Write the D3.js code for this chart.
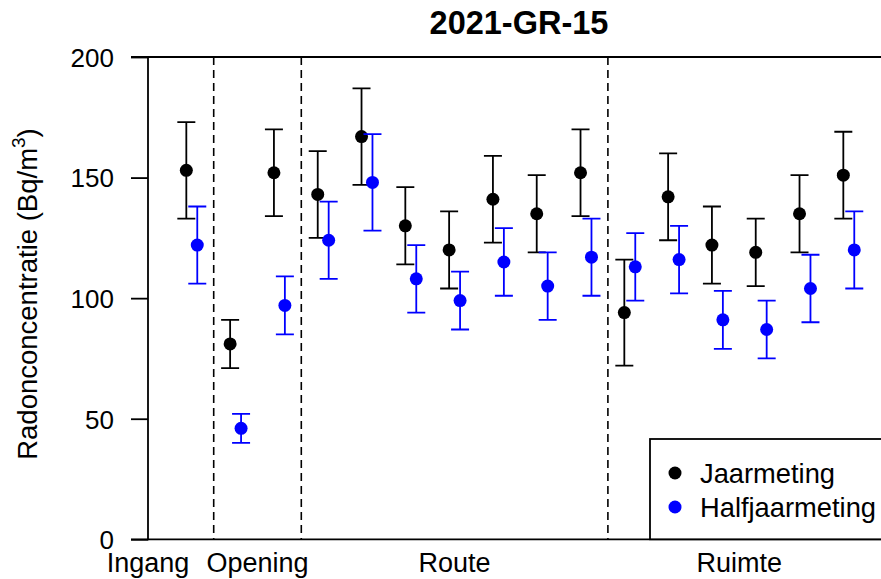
<!DOCTYPE html>
<html>
<head>
<meta charset="utf-8">
<script src="https://cdn.jsdelivr.net/npm/d3@7/dist/d3.min.js"></script>
<style>
  html, body { margin: 0; padding: 0; background: #fff; }
  svg { display: block; font-family: "Liberation Sans", Arial, sans-serif; }
</style>
</head>
<body>
<svg id="chart" width="881" height="579"></svg>
<script>
// Measurement locations (1..16) and their values in Bq/m3
const locations = [1, 2, 3, 4, 5, 6, 7, 8, 9, 10, 11, 12, 13, 14, 15, 16];

const yearValue = [153, 81, 152, 143, 167, 130, 120, 141, 135, 152, 94, 142, 122, 119, 135, 151];
const yearLow   = [133, 71, 134, 125, 147, 114, 104, 123, 119, 134, 72, 124, 106, 105, 119, 133];
const yearHigh  = [173, 91, 170, 161, 187, 146, 136, 159, 151, 170, 116, 160, 138, 133, 151, 169];

const halfValue = [122, 46, 97, 124, 148, 108, 99, 115, 105, 117, 113, 116, 91, 87, 104, 120];
const halfLow   = [106, 40, 85, 108, 128, 94, 87, 101, 91, 101, 99, 102, 79, 75, 90, 104];
const halfHigh  = [138, 52, 109, 140, 168, 122, 111, 129, 119, 133, 127, 130, 103, 99, 118, 136];

// Zone separators and zone labels
const zoneBreaks = [1.5, 3.5, 10.5];
const zoneNames = ["Ingang", "Opening", "Route", "Ruimte"];
const zoneLabelPos = [0, 2.5, 7, 13.5];

const yTicks = [0, 50, 100, 150, 200];
const seriesNames = ["Jaarmeting", "Halfjaarmeting"];
const seriesColors = ["#000000", "#0000ff"];
const title = "2021-GR-15";

const svg = d3.select("#chart");
const x = d3.scaleLinear().domain([0, 17]).range([148, 892.6]);
const y = d3.scaleLinear().domain([0, 200]).range([539.3, 57]);
const xLeft = x(0), xRight = x(17);

// Title
svg.append("text")
  .attr("x", 519).attr("y", 34)
  .attr("text-anchor", "middle")
  .attr("font-size", 32.5).attr("font-weight", "bold")
  .text(title);

// Box: top, bottom, left
const frame = svg.append("g").attr("stroke", "#000").attr("stroke-width", 1.8).attr("fill", "none");
frame.append("line").attr("x1", xLeft).attr("x2", xRight).attr("y1", y(200)).attr("y2", y(200));
frame.append("line").attr("x1", xLeft).attr("x2", xRight).attr("y1", y(0)).attr("y2", y(0));

// Y axis
const yAxis = d3.axisLeft(y).tickValues(yTicks).tickSize(17).tickPadding(17).tickFormat(d3.format("d"));
const yg = svg.append("g").attr("transform", `translate(${xLeft},0)`).call(yAxis);
yg.select(".domain").attr("stroke-width", 1.8).attr("d", `M-17,${y(200)}H0V${y(0)}H-17`);
yg.selectAll(".tick line").attr("stroke-width", 1.8);
yg.selectAll(".tick text")
  .attr("font-size", 26).attr("font-family", "Liberation Sans, Arial, sans-serif")
  .attr("fill", "#000").attr("dy", "0.36em");

// Y axis title
const yt = svg.append("text")
  .attr("transform", `translate(37,294) rotate(-90)`)
  .attr("text-anchor", "middle")
  .attr("font-size", 27.5);
yt.append("tspan").text("Radonconcentratie (Bq/m");
yt.append("tspan").attr("font-size", 19).attr("dy", -12).text("3");
yt.append("tspan").attr("dy", 12).text(")");

// Zone separators
svg.append("g").selectAll("line").data(zoneBreaks).join("line")
  .attr("x1", d => x(d)).attr("x2", d => x(d))
  .attr("y1", y(200)).attr("y2", y(0))
  .attr("stroke", "#000").attr("stroke-width", 1.6)
  .attr("stroke-dasharray", "8,5");

// Zone labels
svg.append("g").selectAll("text").data(zoneNames).join("text")
  .attr("x", (d, i) => x(zoneLabelPos[i])).attr("y", 572)
  .attr("text-anchor", "middle")
  .attr("font-size", 27)
  .text(d => d);

// Error bars with points
const series = [
  { name: seriesNames[0], color: seriesColors[0], offset: -0.125, v: yearValue, lo: yearLow, hi: yearHigh },
  { name: seriesNames[1], color: seriesColors[1], offset: 0.125, v: halfValue, lo: halfLow, hi: halfHigh }
];
const cap = 9;
series.forEach(s => {
  const g = svg.append("g").attr("stroke", s.color).attr("fill", s.color);
  const rows = locations.map((loc, i) => ({ cx: x(loc + s.offset), v: s.v[i], lo: s.lo[i], hi: s.hi[i] }));
  g.selectAll("path.err").data(rows).join("path")
    .attr("class", "err")
    .attr("fill", "none").attr("stroke-width", 1.8)
    .attr("d", d => `M${d.cx - cap},${y(d.hi)}H${d.cx + cap}M${d.cx},${y(d.hi)}V${y(d.lo)}M${d.cx - cap},${y(d.lo)}H${d.cx + cap}`);
  g.selectAll("circle").data(rows).join("circle")
    .attr("cx", d => d.cx).attr("cy", d => y(d.v)).attr("r", 6.5)
    .attr("stroke", "none");
});

// Legend
const lg = svg.append("g");
lg.append("rect")
  .attr("x", 650).attr("y", 439).attr("width", 260).attr("height", y(0) - 439)
  .attr("fill", "#fff").attr("stroke", "#000").attr("stroke-width", 1.8);
series.forEach((s, i) => {
  lg.append("circle").attr("cx", 675).attr("cy", 473 + i * 34).attr("r", 6.5).attr("fill", s.color);
  lg.append("text").attr("x", 700).attr("y", 483 + i * 34).attr("font-size", 27.3).text(s.name);
});
</script>
</body>
</html>
